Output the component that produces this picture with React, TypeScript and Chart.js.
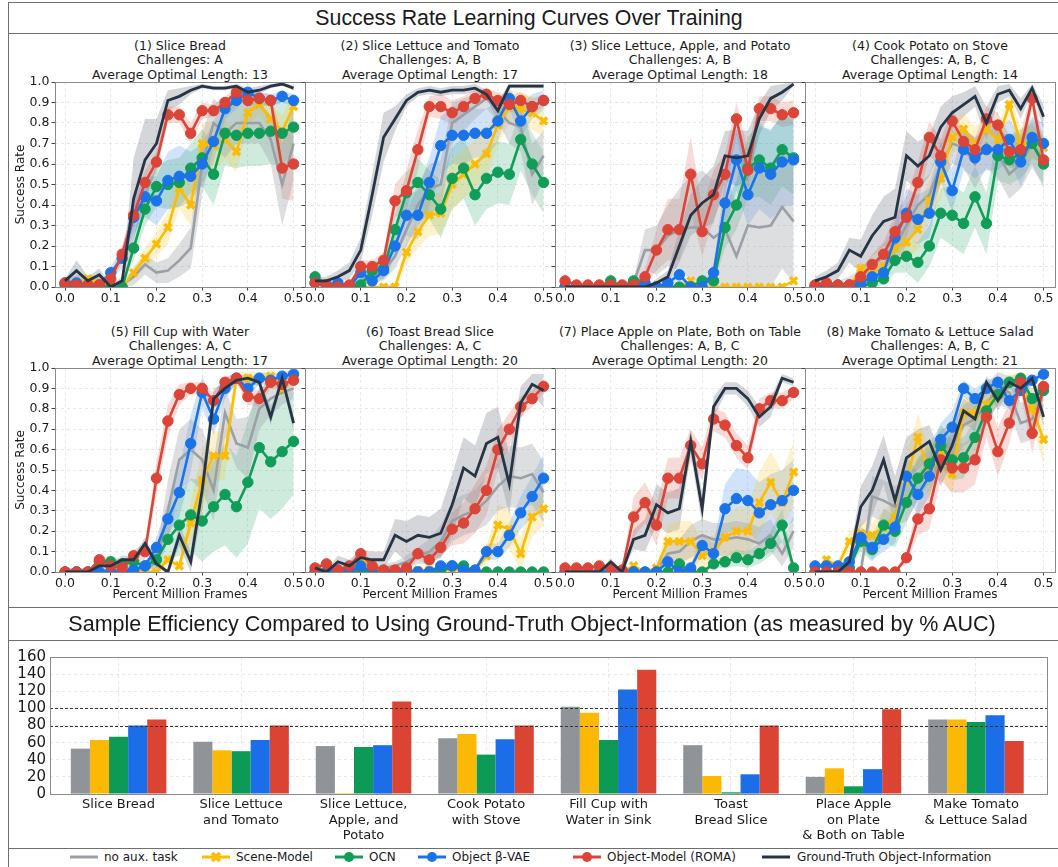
import React, { useEffect, useRef } from "react";
import { Chart, registerables } from "chart.js";
Chart.register(...registerables);

// ---------- DATA ----------
const FRAMES = [0.0, 0.025, 0.05, 0.075, 0.1, 0.125, 0.15, 0.175, 0.2, 0.225, 0.25, 0.275, 0.3, 0.325, 0.35, 0.375, 0.4, 0.425, 0.45, 0.475, 0.5];
const X_TICKS = [0, 0.1, 0.2, 0.3, 0.4, 0.5];
const Y_TICKS = [0, 0.1, 0.2, 0.3, 0.4, 0.5, 0.6, 0.7, 0.8, 0.9, 1.0];

const SERIES_NAMES = ["no aux. task", "Scene-Model", "OCN", "Object β-VAE", "Object-Model (ROMA)", "Ground-Truth Object-Information"];
const SERIES_COLORS = ["#9aa0a6", "#fbbc04", "#0f9d58", "#1a73e8", "#db4437", "#263445"];
const BAND_COLORS = ["rgba(154,160,166,0.35)", "rgba(251,188,4,0.2)", "rgba(15,157,88,0.2)", "rgba(26,115,232,0.2)", "rgba(219,68,55,0.2)", "rgba(38,52,69,0.2)"];

const TASK_TITLES = [
  ["(1) Slice Bread", "Challenges: A", "Average Optimal Length: 13"],
  ["(2) Slice Lettuce and Tomato", "Challenges: A, B", "Average Optimal Length: 17"],
  ["(3) Slice Lettuce, Apple, and Potato", "Challenges: A, B", "Average Optimal Length: 18"],
  ["(4) Cook Potato on Stove", "Challenges: A, B, C", "Average Optimal Length: 14"],
  ["(5) Fill Cup with Water", "Challenges: A, C", "Average Optimal Length: 17"],
  ["(6) Toast Bread Slice", "Challenges: A, C", "Average Optimal Length: 20"],
  ["(7) Place Apple on Plate, Both on Table", "Challenges: A, B, C", "Average Optimal Length: 20"],
  ["(8) Make Tomato & Lettuce Salad", "Challenges: A, B, C", "Average Optimal Length: 21"],
];

// success rate in %, mean and half-width of shaded band
const p1_none = [1, 2, 3, 2, 0, 1, 5, 11, 7, 8, 13, 19, 60, 80, 75, 80, 80, 80, 72, 50, 70];
const p1_none_sd = [2, 4, 3, 3, 2, 2, 4, 5, 5, 6, 8, 10, 15, 12, 12, 10, 10, 10, 12, 20, 18];
const p1_scene = [1, 2, 4, 2, 1, 0, 7, 14, 21, 29, 48, 40, 70, 69, 72, 66, 85, 89, 82, 76, 88];
const p1_scene_sd = [1, 2, 2, 2, 1, 0, 3, 5, 6, 8, 10, 10, 10, 12, 10, 10, 6, 5, 6, 8, 5];
const p1_ocn = [1, 0, 0, 0, 0, 0, 19, 38, 49, 50, 51, 58, 63, 55, 75, 74, 75, 75, 76, 75, 78];
const p1_ocn_sd = [1, 0, 0, 0, 0, 0, 6, 8, 10, 12, 12, 12, 14, 15, 16, 16, 16, 16, 16, 16, 12];
const p1_vae = [2, 2, 1, 1, 7, 14, 34, 44, 42, 52, 54, 54, 60, 71, 87, 91, 95, 92, 91, 93, 91];
const p1_vae_sd = [1, 1, 1, 1, 3, 5, 8, 10, 12, 14, 15, 12, 10, 10, 5, 4, 2, 3, 3, 3, 3];
const p1_roma = [2, 1, 1, 1, 4, 16, 35, 51, 61, 84, 84, 75, 86, 86, 90, 95, 91, 92, 91, 58, 60];
const p1_roma_sd = [1, 1, 1, 1, 2, 4, 6, 6, 5, 4, 4, 5, 4, 3, 3, 2, 3, 3, 3, 15, 18];
const p1_gt = [3, 8, 3, 6, 0, 3, 43, 62, 70, 91, 93, 96, 98, 97, 97, 98, 95, 96, 98, 99, 97];
const p1_gt_sd = [1, 5, 2, 3, 1, 2, 20, 20, 12, 5, 4, 2, 1, 1, 1, 1, 2, 2, 1, 1, 1];

const p2_none = [2, 1, 1, 1, 3, 5, 8, 15, 28, 40, 48, 50, 80, 84, 88, 92, 86, 80, 78, 55, 64];
const p2_none_sd = [1, 1, 1, 1, 2, 3, 5, 6, 8, 10, 12, 12, 10, 8, 6, 5, 5, 10, 12, 15, 12];
const p2_scene = [2, 1, 0, 0, 0, 0, 0, 0, 17, 27, 35, 36, 50, 55, 60, 65, 79, 88, 87, 85, 81];
const p2_scene_sd = [1, 1, 0, 0, 0, 0, 0, 2, 6, 8, 10, 10, 12, 12, 12, 12, 10, 8, 8, 8, 8];
const p2_ocn = [5, 1, 0, 0, 1, 8, 9, 28, 46, 51, 45, 38, 53, 58, 45, 53, 56, 55, 72, 60, 51];
const p2_ocn_sd = [2, 1, 1, 1, 2, 4, 5, 8, 10, 12, 12, 14, 15, 15, 15, 15, 15, 15, 15, 15, 15];
const p2_vae = [2, 0, 2, 0, 7, 3, 8, 20, 35, 35, 51, 69, 74, 74, 75, 75, 81, 92, 81, 88, 91];
const p2_vae_sd = [1, 1, 1, 1, 3, 2, 4, 6, 10, 12, 12, 14, 14, 14, 12, 12, 10, 5, 8, 6, 5];
const p2_roma = [2, 1, 0, 1, 10, 10, 13, 42, 47, 67, 88, 88, 85, 88, 92, 94, 91, 89, 91, 88, 91];
const p2_roma_sd = [1, 1, 1, 1, 3, 3, 4, 8, 10, 10, 5, 6, 6, 5, 4, 3, 4, 4, 4, 4, 3];
const p2_gt = [3, 3, 5, 8, 18, 45, 73, 82, 91, 95, 96, 95, 96, 96, 97, 94, 86, 98, 98, 98, 98];
const p2_gt_sd = [2, 2, 3, 4, 6, 10, 12, 6, 3, 2, 2, 2, 2, 2, 2, 2, 5, 1, 1, 1, 1];

const p3_none = [0, 0, 0, 0, 0, 0, 2, 18, 18, 25, 28, 29, 29, 24, 28, 15, 30, 29, 30, 39, 32];
const p3_none_sd = [0, 0, 0, 0, 1, 2, 2, 10, 12, 15, 20, 25, 28, 28, 28, 25, 30, 30, 30, 30, 30];
const p3_scene = [0, 0, 0, 0, 0, 0, 0, 0, 0, 0, 0, 3, 0, 0, 0, 0, 0, 0, 0, 0, 3];
const p3_scene_sd = [0, 0, 0, 0, 0, 0, 0, 0, 0, 0, 0, 1, 0, 0, 0, 0, 0, 0, 0, 0, 1];
const p3_ocn = [0, 0, 0, 0, 3, 0, 3, 0, 0, 0, 0, 0, 3, 3, 29, 40, 58, 62, 58, 67, 63];
const p3_ocn_sd = [0, 0, 0, 0, 2, 0, 2, 0, 0, 0, 0, 0, 2, 2, 10, 12, 15, 18, 18, 18, 18];
const p3_vae = [0, 0, 0, 0, 0, 0, 0, 2, 0, 2, 6, 0, 0, 7, 41, 62, 45, 58, 55, 61, 62];
const p3_vae_sd = [0, 0, 0, 0, 0, 0, 0, 1, 0, 2, 3, 0, 0, 4, 12, 15, 15, 20, 22, 22, 22];
const p3_roma = [3, 1, 1, 1, 1, 1, 1, 5, 18, 28, 28, 55, 27, 45, 55, 82, 57, 87, 87, 84, 85];
const p3_roma_sd = [1, 1, 0, 0, 0, 0, 1, 4, 10, 15, 15, 18, 12, 12, 10, 8, 10, 6, 6, 6, 6];
const p3_gt = [0, 0, 0, 0, 0, 0, 0, 0, 2, 5, 20, 35, 41, 45, 64, 63, 64, 82, 92, 95, 99];
const p3_gt_sd = [0, 0, 0, 0, 0, 0, 0, 0, 2, 3, 8, 10, 12, 14, 12, 14, 12, 8, 6, 4, 1];

const p4_none = [0, 1, 1, 2, 5, 10, 15, 20, 30, 40, 45, 60, 70, 68, 60, 70, 65, 55, 60, 70, 62];
const p4_none_sd = [1, 1, 2, 3, 4, 5, 6, 8, 10, 10, 10, 10, 10, 10, 12, 12, 12, 12, 12, 12, 12];
const p4_scene = [0, 0, 0, 0, 9, 7, 10, 19, 22, 28, 42, 53, 73, 77, 70, 77, 72, 89, 70, 70, 68];
const p4_scene_sd = [0, 0, 0, 0, 3, 3, 4, 6, 8, 10, 10, 10, 8, 8, 8, 6, 6, 5, 8, 8, 8];
const p4_ocn = [0, 0, 1, 1, 0, 2, 4, 13, 15, 12, 20, 36, 35, 31, 44, 31, 64, 62, 65, 70, 60];
const p4_ocn_sd = [0, 0, 1, 1, 1, 2, 3, 6, 8, 10, 10, 12, 15, 15, 15, 15, 12, 12, 12, 10, 12];
const p4_vae = [0, 0, 0, 0, 2, 5, 7, 24, 36, 33, 36, 61, 47, 67, 63, 67, 67, 72, 61, 73, 70];
const p4_vae_sd = [0, 0, 0, 0, 2, 3, 4, 8, 12, 12, 12, 10, 10, 10, 10, 10, 10, 10, 12, 10, 10];
const p4_roma = [1, 2, 1, 1, 5, 11, 16, 27, 34, 51, 73, 64, 81, 71, 67, 82, 79, 66, 67, 92, 62];
const p4_roma_sd = [1, 1, 1, 1, 3, 5, 6, 8, 10, 10, 8, 8, 6, 6, 6, 6, 6, 8, 8, 5, 8];
const p4_gt = [3, 5, 8, 18, 15, 25, 32, 34, 64, 59, 64, 78, 85, 89, 93, 80, 94, 96, 87, 97, 83];
const p4_gt_sd = [2, 3, 4, 6, 8, 10, 12, 14, 12, 12, 10, 10, 8, 6, 5, 8, 4, 3, 5, 2, 6];

const p5_none = [1, 1, 1, 1, 1, 1, 1, 1, 5, 30, 55, 60, 55, 40, 78, 63, 61, 80, 85, 88, 90];
const p5_none_sd = [1, 1, 1, 1, 1, 2, 2, 3, 5, 15, 15, 15, 15, 15, 12, 12, 15, 10, 8, 6, 5];
const p5_scene = [0, 0, 0, 0, 0, 0, 0, 0, 0, 6, 3, 24, 45, 57, 57, 95, 95, 95, 96, 90, 95];
const p5_scene_sd = [0, 0, 0, 0, 0, 0, 0, 0, 1, 3, 2, 10, 15, 12, 12, 3, 3, 3, 3, 4, 3];
const p5_ocn = [0, 0, 0, 5, 5, 4, 5, 3, 6, 16, 23, 28, 25, 32, 38, 32, 44, 61, 54, 59, 64];
const p5_ocn_sd = [0, 0, 0, 2, 3, 2, 2, 2, 4, 10, 15, 18, 20, 22, 25, 25, 30, 30, 28, 28, 26];
const p5_vae = [0, 0, 0, 0, 0, 0, 1, 3, 12, 26, 39, 63, 88, 75, 90, 95, 90, 95, 94, 96, 97];
const p5_vae_sd = [0, 0, 0, 0, 0, 0, 1, 2, 5, 8, 12, 14, 8, 8, 5, 3, 4, 3, 3, 2, 2];
const p5_roma = [0, 0, 0, 6, 3, 2, 8, 10, 46, 74, 87, 90, 90, 84, 93, 95, 86, 85, 93, 92, 94];
const p5_roma_sd = [0, 0, 0, 2, 2, 2, 3, 4, 8, 8, 5, 3, 3, 4, 3, 2, 4, 4, 3, 3, 2];
const p5_gt = [0, 0, 0, 3, 3, 6, 6, 14, 4, 0, 18, 5, 40, 85, 90, 94, 95, 93, 76, 95, 73];
const p5_gt_sd = [0, 0, 0, 1, 1, 2, 2, 3, 2, 1, 5, 5, 10, 5, 3, 2, 2, 2, 4, 2, 4];

const p6_none = [1, 1, 1, 1, 1, 1, 2, 3, 5, 8, 10, 15, 25, 28, 30, 35, 42, 47, 46, 48, 39];
const p6_none_sd = [1, 1, 1, 1, 1, 1, 2, 2, 3, 4, 6, 8, 10, 10, 10, 12, 12, 15, 15, 15, 15];
const p6_scene = [0, 0, 0, 0, 7, 2, 1, 1, 1, 1, 1, 1, 1, 1, 1, 8, 23, 21, 9, 27, 31];
const p6_scene_sd = [0, 0, 0, 0, 3, 1, 1, 1, 1, 1, 1, 1, 1, 1, 1, 4, 10, 10, 8, 10, 8];
const p6_ocn = [0, 0, 0, 0, 0, 0, 0, 0, 0, 0, 0, 0, 3, 3, 0, 0, 0, 0, 0, 0, 0];
const p6_ocn_sd = [0, 0, 0, 0, 0, 0, 0, 0, 0, 0, 0, 0, 1, 1, 0, 0, 0, 0, 0, 0, 0];
const p6_vae = [0, 0, 1, 0, 3, 0, 0, 0, 0, 0, 0, 3, 3, 1, 1, 10, 10, 18, 29, 37, 46];
const p6_vae_sd = [0, 0, 1, 0, 2, 0, 0, 0, 0, 0, 0, 2, 2, 1, 1, 4, 4, 6, 8, 10, 12];
const p6_roma = [2, 4, 1, 3, 9, 3, 1, 1, 2, 9, 6, 12, 21, 24, 31, 40, 60, 70, 81, 85, 91];
const p6_roma_sd = [1, 2, 1, 1, 3, 2, 1, 1, 1, 3, 3, 4, 8, 10, 12, 12, 10, 8, 5, 4, 3];
const p6_gt = [2, 0, 5, 3, 7, 6, 6, 18, 15, 18, 17, 19, 33, 51, 47, 63, 66, 43, 83, 92, 89];
const p6_gt_sd = [2, 1, 3, 3, 4, 4, 4, 8, 10, 10, 10, 12, 15, 15, 15, 15, 15, 15, 8, 5, 8];

const p7_none = [0, 0, 0, 0, 0, 0, 0, 0, 1, 9, 10, 15, 18, 16, 16, 17, 16, 14, 18, 9, 20];
const p7_none_sd = [0, 0, 0, 0, 0, 0, 0, 1, 2, 5, 6, 8, 8, 8, 8, 8, 8, 8, 8, 6, 8];
const p7_scene = [0, 0, 0, 0, 0, 0, 3, 0, 2, 15, 15, 15, 8, 10, 17, 20, 20, 34, 44, 34, 49];
const p7_scene_sd = [0, 0, 0, 0, 0, 0, 1, 0, 1, 8, 10, 10, 8, 8, 10, 12, 12, 15, 15, 15, 15];
const p7_ocn = [0, 0, 0, 0, 0, 0, 0, 0, 0, 0, 4, 0, 0, 4, 5, 7, 6, 9, 14, 23, 2];
const p7_ocn_sd = [0, 0, 0, 0, 0, 0, 0, 0, 0, 0, 2, 0, 0, 2, 3, 4, 4, 5, 6, 8, 2];
const p7_vae = [0, 0, 0, 0, 0, 0, 0, 0, 0, 5, 0, 2, 13, 9, 31, 36, 35, 29, 33, 35, 40];
const p7_vae_sd = [0, 0, 0, 0, 0, 0, 0, 0, 0, 2, 0, 2, 5, 5, 12, 15, 15, 15, 15, 15, 15];
const p7_roma = [2, 2, 2, 3, 2, 1, 27, 34, 23, 46, 46, 62, 53, 75, 72, 62, 56, 80, 84, 84, 88];
const p7_roma_sd = [1, 1, 1, 1, 1, 1, 10, 10, 10, 10, 10, 8, 8, 6, 6, 6, 6, 5, 4, 4, 3];
const p7_gt = [0, 0, 0, 0, 5, 0, 16, 18, 33, 29, 31, 64, 31, 81, 90, 90, 85, 76, 81, 95, 93];
const p7_gt_sd = [0, 0, 0, 0, 2, 0, 5, 8, 10, 10, 10, 6, 8, 5, 3, 3, 4, 5, 5, 2, 2];

const p8_none = [0, 0, 0, 0, 0, 37, 35, 32, 35, 45, 50, 60, 62, 72, 75, 82, 90, 88, 73, 75, 88];
const p8_none_sd = [0, 0, 0, 0, 1, 10, 10, 10, 10, 10, 10, 10, 10, 10, 10, 10, 8, 8, 10, 10, 8];
const p8_scene = [0, 6, 3, 15, 19, 18, 22, 27, 45, 66, 48, 58, 48, 78, 78, 82, 87, 93, 95, 80, 65];
const p8_scene_sd = [0, 2, 2, 5, 6, 6, 8, 8, 10, 12, 12, 10, 10, 8, 6, 5, 5, 4, 3, 8, 12];
const p8_ocn = [0, 0, 0, 2, 15, 11, 23, 20, 34, 46, 53, 62, 55, 56, 66, 79, 87, 93, 95, 85, 89];
const p8_ocn_sd = [0, 0, 0, 1, 5, 6, 8, 8, 10, 10, 10, 10, 10, 10, 8, 6, 5, 3, 2, 5, 5];
const p8_vae = [3, 3, 3, 5, 17, 12, 16, 22, 47, 38, 47, 65, 71, 90, 85, 90, 93, 84, 89, 94, 97];
const p8_vae_sd = [1, 1, 1, 2, 5, 6, 6, 8, 10, 10, 10, 8, 8, 4, 5, 4, 3, 4, 3, 2, 2];
const p8_roma = [0, 0, 0, 0, 0, 0, 0, 0, 7, 26, 31, 55, 51, 51, 55, 76, 59, 73, 93, 68, 91];
const p8_roma_sd = [0, 0, 0, 0, 0, 0, 0, 0, 3, 8, 10, 10, 12, 12, 12, 10, 12, 10, 5, 10, 5];
const p8_gt = [0, 0, 0, 5, 32, 40, 55, 35, 56, 60, 64, 50, 62, 79, 75, 93, 84, 93, 90, 95, 76];
const p8_gt_sd = [0, 0, 0, 2, 10, 12, 12, 12, 10, 10, 8, 8, 8, 6, 6, 3, 5, 3, 4, 2, 5];

const TASK_MEANS = [
  [p1_none, p1_scene, p1_ocn, p1_vae, p1_roma, p1_gt],
  [p2_none, p2_scene, p2_ocn, p2_vae, p2_roma, p2_gt],
  [p3_none, p3_scene, p3_ocn, p3_vae, p3_roma, p3_gt],
  [p4_none, p4_scene, p4_ocn, p4_vae, p4_roma, p4_gt],
  [p5_none, p5_scene, p5_ocn, p5_vae, p5_roma, p5_gt],
  [p6_none, p6_scene, p6_ocn, p6_vae, p6_roma, p6_gt],
  [p7_none, p7_scene, p7_ocn, p7_vae, p7_roma, p7_gt],
  [p8_none, p8_scene, p8_ocn, p8_vae, p8_roma, p8_gt],
];
const TASK_SPREADS = [
  [p1_none_sd, p1_scene_sd, p1_ocn_sd, p1_vae_sd, p1_roma_sd, p1_gt_sd],
  [p2_none_sd, p2_scene_sd, p2_ocn_sd, p2_vae_sd, p2_roma_sd, p2_gt_sd],
  [p3_none_sd, p3_scene_sd, p3_ocn_sd, p3_vae_sd, p3_roma_sd, p3_gt_sd],
  [p4_none_sd, p4_scene_sd, p4_ocn_sd, p4_vae_sd, p4_roma_sd, p4_gt_sd],
  [p5_none_sd, p5_scene_sd, p5_ocn_sd, p5_vae_sd, p5_roma_sd, p5_gt_sd],
  [p6_none_sd, p6_scene_sd, p6_ocn_sd, p6_vae_sd, p6_roma_sd, p6_gt_sd],
  [p7_none_sd, p7_scene_sd, p7_ocn_sd, p7_vae_sd, p7_roma_sd, p7_gt_sd],
  [p8_none_sd, p8_scene_sd, p8_ocn_sd, p8_vae_sd, p8_roma_sd, p8_gt_sd],
];

// bar chart: % AUC relative to ground-truth object information
const BAR_CATEGORIES = [
  ["Slice Bread"],
  ["Slice Lettuce", "and Tomato"],
  ["Slice Lettuce,", "Apple, and", "Potato"],
  ["Cook Potato", "with Stove"],
  ["Fill Cup with", "Water in Sink"],
  ["Toast", "Bread Slice"],
  ["Place Apple", "on Plate", "& Both on Table"],
  ["Make Tomato", "& Lettuce Salad"],
];
const bar_none = [53, 61, 56, 65, 102, 57, 20, 87];
const bar_scene = [63, 51, 1, 70, 95, 21, 30, 87];
const bar_ocn = [67, 50, 55, 46, 63, 2, 9, 84];
const bar_vae = [80, 63, 57, 64, 122, 23, 29, 92];
const bar_roma = [87, 80, 108, 80, 145, 80, 99, 62];
const BAR_SERIES = [bar_none, bar_scene, bar_ocn, bar_vae, bar_roma];
const BAR_COLORS = ["#909498", "#fbb804", "#0c9a56", "#1b6ee8", "#db4433"];
const REF_LINES = [100, 80];
const BAR_Y_TICKS = [0, 20, 40, 60, 80, 100, 120, 140, 160];

// ---------- LAYOUT ----------
const PLOT_LEFT = [55, 305, 555, 805];
const PLOT_W = 250;
const PLOT_TOP = [82, 368];
const PLOT_H = [205, 204];
const AX_L = 50;
const AX_R = 12;
const AX_T = 10;
const AX_B = 40;

const FONT = "'DejaVu Sans', sans-serif";
const TITLE_FONT = "'Liberation Sans', Arial, sans-serif";
const TEXT = "#1a1a1a";

const framePlugin = {
  id: "frame",
  afterDraw(chart: any) {
    const { ctx, chartArea: a } = chart;
    ctx.save();
    ctx.strokeStyle = "#8a8a8a";
    ctx.lineWidth = 1;
    ctx.strokeRect(Math.round(a.left) + 0.5, Math.round(a.top) + 0.5, Math.round(a.right - a.left), Math.round(a.bottom - a.top));
    ctx.restore();
  },
};

const refLinePlugin = {
  id: "refLines",
  afterDatasetsDraw(chart: any) {
    const { ctx, chartArea: a } = chart;
    const ys = chart.scales.y;
    ctx.save();
    ctx.strokeStyle = "#333";
    ctx.lineWidth = 1;
    ctx.setLineDash([3, 2]);
    REF_LINES.forEach((v) => {
      const py = Math.round(ys.getPixelForValue(v)) + 0.5;
      ctx.beginPath();
      ctx.moveTo(a.left, py);
      ctx.lineTo(a.right, py);
      ctx.stroke();
    });
    ctx.restore();
  },
};

function LineChart({ idx }: { idx: number }) {
  const ref = useRef<HTMLCanvasElement>(null);
  const col = idx % 4;
  const row = Math.floor(idx / 4);
  const PL = PLOT_LEFT[col];
  const PT = PLOT_TOP[row];
  const PH = PLOT_H[row];
  const W = AX_L + PLOT_W + AX_R;
  const H = AX_T + PH + AX_B;
  const showY = col === 0;
  const showXTitle = row === 1;

  useEffect(() => {
    if (!ref.current) return;
    const means = TASK_MEANS[idx];
    const spreads = TASK_SPREADS[idx];
    const datasets: any[] = [];
    for (let s = 0; s < 6; s++) {
      const m = means[s];
      const sd = spreads[s];
      const lowIdx = datasets.length;
      datasets.push({
        data: FRAMES.map((x, i) => ({ x, y: (m[i] - sd[i]) / 100 })),
        borderWidth: 0,
        pointRadius: 0,
        fill: false,
        order: 20,
      });
      datasets.push({
        data: FRAMES.map((x, i) => ({ x, y: (m[i] + sd[i]) / 100 })),
        borderWidth: 0,
        pointRadius: 0,
        fill: lowIdx,
        backgroundColor: BAND_COLORS[s],
        order: 20,
      });
    }
    for (let s = 0; s < 6; s++) {
      const c = SERIES_COLORS[s];
      const marker = s >= 1 && s <= 4;
      datasets.push({
        label: SERIES_NAMES[s],
        data: FRAMES.map((x, i) => ({ x, y: means[s][i] / 100 })),
        borderColor: c,
        backgroundColor: c,
        borderWidth: s === 5 ? 2.8 : 2.6,
        pointRadius: marker ? (s === 1 ? 5 : 5.2) : 0,
        pointStyle: s === 1 ? "crossRot" : "circle",
        pointBorderWidth: s === 1 ? 3.5 : 1,
        pointBorderColor: c,
        pointBackgroundColor: c,
        fill: false,
        tension: 0,
        order: 5 - s,
      });
    }
    const gridCommon = {
      color: "#e3e3e3",
      lineWidth: 0.8,
      drawTicks: true,
      tickLength: 3.5,
      tickColor: "#444",
      tickWidth: 1,
      tickBorderDash: [],
    };
    const chart = new Chart(ref.current, {
      type: "line",
      data: { datasets },
      options: {
        animation: false,
        responsive: false,
        maintainAspectRatio: false,
        events: [],
        layout: { padding: { left: 0, right: AX_R, top: AX_T, bottom: 0 } },
        plugins: {
          legend: { display: false },
          tooltip: { enabled: false },
          filler: { drawTime: "beforeDatasetsDraw", propagate: false },
        } as any,
        scales: {
          x: {
            type: "linear",
            min: -0.022,
            max: 0.525,
            afterBuildTicks: (s: any) => {
              s.ticks = X_TICKS.map((v) => ({ value: v }));
            },
            afterFit: (s: any) => {
              s.height = AX_B;
            },
            ticks: {
              callback: (v: any) => Number(v).toFixed(1),
              font: { family: FONT, size: 12.5 },
              color: TEXT,
              padding: 1,
              maxRotation: 0,
              autoSkip: false,
            },
            grid: gridCommon as any,
            border: { display: false, dash: [3, 3] },
            title: {
              display: showXTitle,
              text: "Percent Million Frames",
              font: { family: FONT, size: 12 },
              color: TEXT,
              padding: { top: 0, bottom: 10 },
            },
          },
          y: {
            type: "linear",
            min: 0,
            max: 1,
            afterBuildTicks: (s: any) => {
              s.ticks = Y_TICKS.map((v) => ({ value: v }));
            },
            afterFit: (s: any) => {
              s.width = AX_L;
            },
            ticks: {
              display: showY,
              callback: (v: any) => Number(v).toFixed(1),
              font: { family: FONT, size: 12.5 },
              color: TEXT,
              padding: 2,
              autoSkip: false,
            },
            grid: gridCommon as any,
            border: { display: false, dash: [3, 3] },
            title: {
              display: showY,
              text: "Success Rate",
              font: { family: FONT, size: 12 },
              color: TEXT,
              padding: { top: 9, bottom: 0 },
            },
          },
        },
      } as any,
      plugins: [framePlugin],
    });
    return () => chart.destroy();
  }, []);

  return (
    <canvas
      ref={ref}
      width={W}
      height={H}
      style={{ position: "absolute", left: PL - AX_L, top: PT - AX_T, width: W, height: H }}
    />
  );
}

function BarChart() {
  const ref = useRef<HTMLCanvasElement>(null);
  const LEFT = 0, TOP = 644, W = 1058, H = 204;
  useEffect(() => {
    if (!ref.current) return;
    const chart = new Chart(ref.current, {
      type: "bar",
      data: {
        datasets: BAR_SERIES.map((d, s) => ({
          label: SERIES_NAMES[s],
          data: d.map((v, i) => ({ x: i, y: v })),
          backgroundColor: BAR_COLORS[s],
          borderWidth: 0,
          categoryPercentage: 0.78,
          barPercentage: 1.0,
        })),
      },
      options: {
        animation: false,
        responsive: false,
        maintainAspectRatio: false,
        events: [],
        layout: { padding: { left: 0, right: 11, top: 10, bottom: 0 } },
        plugins: { legend: { display: false }, tooltip: { enabled: false } },
        scales: {
          x: {
            type: "linear",
            offset: false,
            min: -0.56,
            max: 7.58,
            afterBuildTicks: (s: any) => {
              s.ticks = BAR_CATEGORIES.map((_, i) => ({ value: i }));
            },
            afterFit: (s: any) => {
              s.height = 54;
            },
            ticks: {
              callback: (v: any) => BAR_CATEGORIES[Math.round(Number(v))],
              font: { family: FONT, size: 13, lineHeight: 1.2 },
              color: TEXT,
              padding: 3,
              maxRotation: 0,
              autoSkip: false,
            },
            grid: { offset: false, color: "#e3e3e3", lineWidth: 0.8, drawTicks: false },
            border: { display: false, dash: [3, 3] },
          },
          y: {
            min: 0,
            max: 160,
            afterBuildTicks: (s: any) => {
              s.ticks = BAR_Y_TICKS.map((v) => ({ value: v }));
            },
            afterFit: (s: any) => {
              s.width = 50;
            },
            ticks: {
              font: { family: FONT, size: 15 },
              color: TEXT,
              padding: 4,
              autoSkip: false,
            },
            grid: { color: "#e3e3e3", lineWidth: 0.8, drawTicks: false },
            border: { display: false, dash: [3, 3] },
          },
        },
      } as any,
      plugins: [refLinePlugin, framePlugin],
    });
    return () => chart.destroy();
  }, []);
  return (
    <canvas
      ref={ref}
      width={W}
      height={H}
      style={{ position: "absolute", left: LEFT, top: TOP, width: W, height: H }}
    />
  );
}

function LegendIcon({ s }: { s: number }) {
  const c = SERIES_COLORS[s];
  return (
    <svg width={28} height={14} style={{ display: "block" }}>
      <line x1={0} y1={7} x2={28} y2={7} stroke={c} strokeWidth={3} />
      {s >= 2 && s <= 4 && <circle cx={14} cy={7} r={5} fill={c} />}
      {s === 1 && (
        <g stroke={c} strokeWidth={3.5}>
          <line x1={10} y1={3} x2={18} y2={11} />
          <line x1={10} y1={11} x2={18} y2={3} />
        </g>
      )}
    </svg>
  );
}

const LEGEND_ICON_X = [70, 202, 335, 418, 573, 762];
const LEGEND_TEXT_X = [104, 236, 369, 452, 607, 797];

export default function App() {
  const hLine = (y: number) => (
    <div key={"h" + y} style={{ position: "absolute", left: 8, top: y, width: 1050, height: 1, background: "#6f6f6f" }} />
  );
  return (
    <div style={{ position: "absolute", left: 0, top: 0, width: 1058, height: 867, background: "#fff", overflow: "hidden", fontFamily: FONT, color: TEXT }}>
      <div style={{ position: "absolute", left: 8, top: 2, width: 1060, height: 900, borderLeft: "1px solid #6f6f6f", borderTop: "1px solid #6f6f6f" }} />
      <div style={{ position: "absolute", left: 0, width: 1058, top: 5, textAlign: "center", fontFamily: TITLE_FONT, fontSize: 21.3, lineHeight: "26px" }}>
        Success Rate Learning Curves Over Training
      </div>
      {TASK_TITLES.map((lines, i) => {
        const col = i % 4;
        const row = Math.floor(i / 4);
        return (
          <div
            key={"t" + i}
            style={{
              position: "absolute",
              left: PLOT_LEFT[col] + PLOT_W / 2,
              top: row === 0 ? 39 : 325,
              transform: "translateX(-50%)",
              whiteSpace: "nowrap",
              textAlign: "center",
              fontSize: 12.5,
              lineHeight: "14.3px",
            }}
          >
            {lines.map((l, k) => (
              <div key={k}>{l}</div>
            ))}
          </div>
        );
      })}
      {TASK_TITLES.map((_, i) => (
        <LineChart key={"c" + i} idx={i} />
      ))}
      <div style={{ position: "absolute", left: 0, width: 1064, top: 611, textAlign: "center", fontFamily: TITLE_FONT, fontSize: 21.5, lineHeight: "26px" }}>
        Sample Efficiency Compared to Using Ground-Truth Object-Information (as measured by % AUC)
      </div>
      <BarChart />
      {SERIES_NAMES.map((n, s) => (
        <React.Fragment key={"l" + s}>
          <div style={{ position: "absolute", left: LEGEND_ICON_X[s], top: 850 }}>
            <LegendIcon s={s} />
          </div>
          <div style={{ position: "absolute", left: LEGEND_TEXT_X[s], top: 849, fontSize: 12, lineHeight: "16px", whiteSpace: "nowrap" }}>
            {n}
          </div>
        </React.Fragment>
      ))}
      {[33, 607, 640, 848].map(hLine)}
    </div>
  );
}
